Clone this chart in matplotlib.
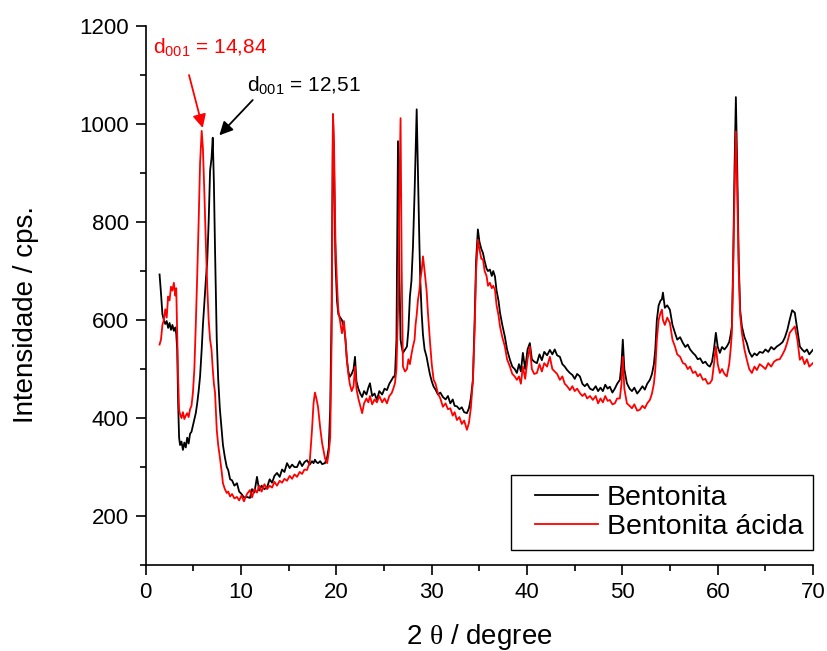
import matplotlib
matplotlib.use("Agg")
import matplotlib.pyplot as plt
from matplotlib.ticker import MultipleLocator
from matplotlib.legend_handler import HandlerLine2D

plt.rcParams["font.family"] = ["Liberation Sans", "DejaVu Sans"]
plt.rcParams["mathtext.fontset"] = "custom"
plt.rcParams["mathtext.rm"] = "Liberation Sans"
plt.rcParams["mathtext.it"] = "Liberation Serif"

# 2 theta (degree)
two_theta = [
    1.45, 1.6, 1.75, 1.9, 2.05, 2.2, 2.35, 2.5, 2.65, 2.8, 2.95, 3.1, 3.2, 3.3, 3.4, 3.5,
    3.6, 3.75, 3.9, 4.05, 4.2, 4.35, 4.5, 4.65, 4.8, 4.95, 5.1, 5.25, 5.4, 5.55, 5.7, 5.87,
    6.0, 6.15, 6.3, 6.45, 6.6, 6.75, 6.9, 7.03, 7.15, 7.27, 7.45, 7.6, 7.77, 7.97, 8.1, 8.3,
    8.5, 8.65, 8.85, 9.05, 9.3, 9.57, 9.8, 10.05, 10.3, 10.62, 10.93, 11.15, 11.4, 11.67, 11.9, 12.15,
    12.45, 12.73, 13.0, 13.25, 13.5, 13.77, 14.05, 14.3, 14.55, 14.82, 15.1, 15.35, 15.6, 15.87, 16.15, 16.4,
    16.65, 16.92, 17.2, 17.44, 17.6, 17.75, 17.9, 18.07, 18.3, 18.5, 18.8, 19.03, 19.2, 19.35, 19.5, 19.64,
    19.75, 19.9, 20.06, 20.2, 20.37, 20.58, 20.79, 20.95, 21.1, 21.25, 21.4, 21.6, 21.8, 21.95, 22.1, 22.3,
    22.5, 22.7, 22.9, 23.15, 23.35, 23.52, 23.75, 24.0, 24.25, 24.5, 24.8, 25.05, 25.3, 25.55, 25.8, 26.0,
    26.14, 26.3, 26.46, 26.6, 26.73, 26.85, 26.98, 27.2, 27.4, 27.55, 27.71, 27.87, 28.03, 28.2, 28.3, 28.42,
    28.55, 28.7, 28.8, 28.94, 29.08, 29.25, 29.46, 29.6, 29.8, 30.0, 30.2, 30.4, 30.65, 30.9, 31.17, 31.45,
    31.7, 31.95, 32.2, 32.4, 32.64, 32.9, 33.15, 33.4, 33.69, 33.9, 34.1, 34.32, 34.5, 34.65, 34.84, 35.0,
    35.2, 35.37, 35.55, 35.75, 35.9, 36.1, 36.3, 36.45, 36.63, 36.8, 37.0, 37.16, 37.4, 37.67, 37.9, 38.2,
    38.45, 38.7, 38.93, 39.15, 39.35, 39.56, 39.8, 40.05, 40.29, 40.5, 40.75, 41.03, 41.3, 41.55, 41.8, 42.1,
    42.39, 42.65, 42.9, 43.15, 43.44, 43.7, 43.95, 44.2, 44.49, 44.75, 45.0, 45.25, 45.54, 45.8, 46.05, 46.3,
    46.6, 46.9, 47.2, 47.45, 47.7, 47.95, 48.2, 48.45, 48.68, 48.95, 49.2, 49.45, 49.73, 49.9, 50.04, 50.2,
    50.47, 50.75, 51.0, 51.25, 51.55, 51.83, 52.1, 52.35, 52.6, 52.88, 53.1, 53.3, 53.45, 53.61, 53.8, 54.0,
    54.14, 54.25, 54.45, 54.7, 54.98, 55.25, 55.51, 55.75, 56.05, 56.35, 56.6, 56.85, 57.1, 57.39, 57.65, 57.9,
    58.15, 58.44, 58.7, 58.95, 59.17, 59.4, 59.6, 59.8, 60.0, 60.22, 60.45, 60.7, 60.95, 61.2, 61.35, 61.48,
    61.6, 61.75, 61.9, 62.05, 62.2, 62.35, 62.53, 62.8, 63.05, 63.3, 63.58, 63.85, 64.1, 64.4, 64.72, 65.0,
    65.3, 65.6, 65.9, 66.19, 66.5, 66.8, 67.05, 67.3, 67.55, 67.8, 68.08, 68.35, 68.61, 68.85, 69.1, 69.35,
    69.6, 69.97,
]

bentonita = [
    693, 655, 612, 600, 592, 598, 584, 594, 580, 590, 578, 585, 572, 540, 430, 360,
    345, 352, 335, 350, 340, 360, 348, 368, 372, 385, 398, 410, 430, 455, 485, 540,
    590, 635, 680, 720, 800, 905, 930, 972, 880, 743, 560, 480, 420, 376, 345, 320,
    300, 294, 275, 273, 262, 267, 250, 245, 238, 239, 237, 255, 248, 280, 252, 262,
    255, 259, 275, 268, 282, 288, 280, 295, 290, 308, 298, 305, 300, 300, 312, 302,
    310, 314, 305, 312, 308, 315, 310, 308, 312, 306, 308, 320, 340, 420, 620, 1020,
    920, 720, 640, 612, 606, 600, 586, 560, 518, 495, 484, 490, 500, 525, 475, 460,
    450, 443, 455, 448, 462, 471, 445, 450, 437, 455, 448, 460, 457, 470, 478, 485,
    484, 560, 965, 700, 560, 545, 533, 540, 546, 580, 648, 680, 750, 860, 940, 1030,
    900, 760, 680, 615, 570, 540, 525, 510, 490, 475, 464, 458, 448, 452, 443, 438,
    445, 430, 438, 425, 424, 418, 422, 412, 410, 420, 440, 478, 600, 720, 785, 760,
    745, 737, 720, 705, 700, 703, 690, 700, 689, 660, 640, 615, 590, 566, 540, 519,
    505, 500, 492, 510, 495, 533, 500, 540, 553, 520, 515, 512, 530, 518, 535, 528,
    539, 530, 540, 528, 525, 510, 505, 498, 492, 488, 480, 490, 485, 470, 465, 470,
    460, 457, 465, 455, 462, 455, 468, 460, 464, 452, 460, 470, 478, 510, 560, 500,
    471, 460, 455, 462, 450, 457, 465, 458, 470, 478, 490, 510, 540, 600, 630, 640,
    642, 656, 625, 630, 621, 590, 574, 560, 565, 553, 545, 550, 540, 533, 528, 520,
    522, 512, 515, 508, 505, 515, 540, 574, 545, 533, 545, 540, 546, 555, 570, 587,
    700, 900, 1055, 900, 720, 620, 587, 565, 553, 535, 525, 532, 528, 535, 533, 540,
    535, 545, 540, 546, 550, 555, 565, 580, 601, 620, 615, 580, 546, 540, 535, 540,
    530, 539,
]

bentonita_acida = [
    550, 560, 590, 600, 622, 605, 648, 640, 668, 660, 676, 650, 665, 574, 480, 417,
    408, 400, 412, 398, 405, 410, 402, 418, 425, 452, 500, 590, 690, 800, 920, 986,
    950, 860, 760, 670, 600, 560, 540, 500, 470, 452, 376, 345, 321, 290, 267, 255,
    247, 250, 240, 245, 236, 239, 232, 242, 230, 245, 253, 238, 255, 248, 262, 250,
    265, 255, 262, 258, 270, 262, 272, 268, 276, 272, 282, 276, 285, 280, 290, 286,
    295, 294, 310, 376, 430, 452, 440, 423, 380, 349, 318, 308, 330, 360, 560, 1020,
    960, 760, 675, 620, 600, 573, 598, 560, 520, 490, 470, 455, 465, 505, 460, 440,
    425, 410, 430, 440, 432, 445, 428, 438, 432, 445, 432, 440, 430, 445, 451, 462,
    471, 500, 620, 850, 1012, 700, 505, 495, 500, 520, 510, 530, 546, 560, 590, 610,
    640, 660, 683, 700, 730, 700, 660, 615, 560, 510, 478, 470, 450, 440, 423, 430,
    418, 420, 405, 412, 396, 402, 388, 395, 376, 390, 420, 478, 580, 700, 764, 745,
    725, 724, 700, 690, 670, 676, 665, 670, 662, 630, 610, 587, 565, 546, 520, 505,
    490, 485, 478, 485, 470, 505, 480, 520, 546, 500, 490, 492, 510, 495, 512, 505,
    525, 500, 495, 490, 478, 485, 470, 465, 457, 465, 455, 460, 451, 445, 450, 440,
    445, 437, 445, 430, 440, 432, 445, 435, 437, 428, 430, 440, 440, 470, 525, 460,
    430, 425, 420, 428, 415, 417, 425, 420, 430, 437, 450, 470, 500, 560, 600, 615,
    621, 600, 590, 605, 594, 560, 546, 530, 525, 512, 510, 500, 505, 492, 495, 485,
    490, 478, 480, 470, 471, 478, 510, 546, 510, 492, 500, 490, 485, 510, 540, 574,
    680, 850, 985, 860, 700, 610, 574, 540, 519, 500, 492, 505, 498, 510, 505, 500,
    512, 505, 515, 519, 520, 530, 540, 555, 574, 580, 587, 560, 519, 525, 510, 520,
    505, 512,
]

assert len(two_theta) == len(bentonita) == len(bentonita_acida)

fig = plt.figure(figsize=(8.28, 6.51), dpi=100)
ax = fig.add_axes([0.176, 0.132, 0.806, 0.828])

ax.plot(two_theta, bentonita, color="black", lw=1.3, label="Bentonita")
ax.plot(two_theta, bentonita_acida, color="red", lw=1.3, label="Bentonita ácida")

ax.set_xlim(0, 70)
ax.set_ylim(100, 1200)
ax.xaxis.set_major_locator(MultipleLocator(10))
ax.xaxis.set_minor_locator(MultipleLocator(5))
ax.yaxis.set_major_locator(MultipleLocator(200))
ax.yaxis.set_minor_locator(MultipleLocator(100))

for side in ["top", "right"]:
    ax.spines[side].set_visible(False)
for side in ["left", "bottom"]:
    ax.spines[side].set_linewidth(1.2)

ax.tick_params(which="major", direction="out", length=7, width=1.2, labelsize=16, pad=5)
ax.tick_params(which="minor", direction="out", length=4, width=1.2)

ax.set_xlabel("2 $\\theta$ / degree", fontsize=20, labelpad=14)
ax.set_ylabel("Intensidade / cps.", fontsize=20)
ax.yaxis.set_label_coords(-0.16, 0.465)

# d001 markers
ax.annotate("", xy=(5.98, 992), xytext=(4.54, 1100),
            arrowprops=dict(arrowstyle="-|>", color="red", lw=1.3, mutation_scale=20,
                            shrinkA=0, shrinkB=0))
ax.text(0.77, 1158, "d$_{001}$ = 14,84", color="red", fontsize=15, ha="left", va="center")
ax.annotate("", xy=(7.72, 977), xytext=(11.22, 1049),
            arrowprops=dict(arrowstyle="-|>", color="black", lw=1.3, mutation_scale=20,
                            shrinkA=0, shrinkB=0))
ax.text(10.59, 1080, "d$_{001}$ = 12,51", color="black", fontsize=15, ha="left", va="center")

leg = ax.legend(loc="lower right", bbox_to_anchor=(1.0, 0.028), fontsize=20.5,
                fancybox=False, edgecolor="black", framealpha=1, borderaxespad=0,
                handlelength=2.7, handletextpad=0.3, labelspacing=0.1, borderpad=0.35,
                handler_map={matplotlib.lines.Line2D: HandlerLine2D(xpad=0.5)})
leg.get_frame().set_linewidth(1.0)

plt.savefig("out.png", dpi=100)
